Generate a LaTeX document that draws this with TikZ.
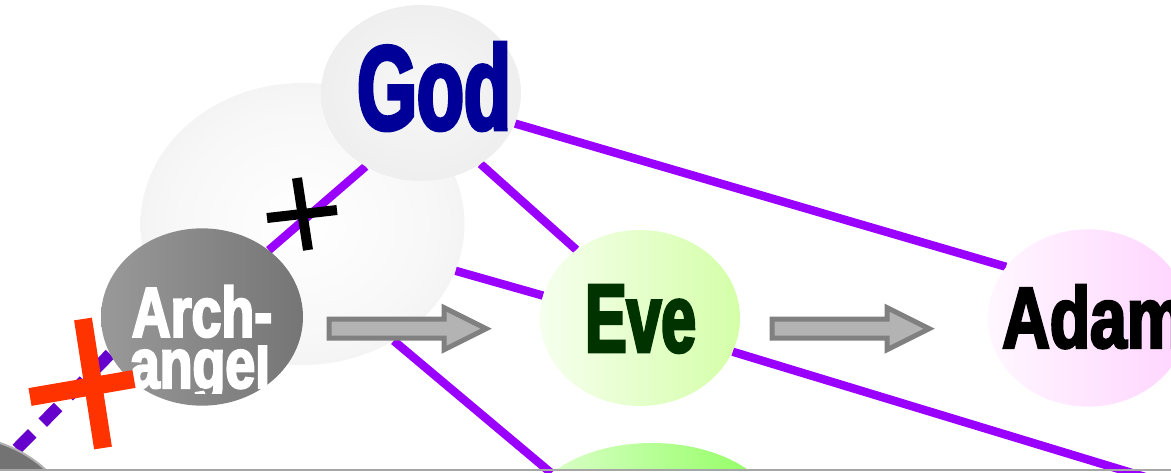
\documentclass[tikz,border=0pt]{standalone}
\usepackage{fontspec}
\newfontfamily\impact{Liberation Sans}[FakeStretch=0.64,FakeBold=3]
\newfontfamily\impactw{Liberation Sans}[FakeStretch=0.76,FakeBold=3]
\usetikzlibrary{shapes.geometric}
\definecolor{purp}{HTML}{9900FF}
\definecolor{dpurp}{HTML}{6600CC}
\definecolor{godblue}{HTML}{000099}
\definecolor{evegreen}{HTML}{003300}
\definecolor{redx}{HTML}{FF3300}
\definecolor{arrfill}{HTML}{B3B3B3}
\definecolor{arrdraw}{HTML}{808080}
\pgfdeclareradialshading{bigshade}{\pgfpoint{0bp}{0bp}}{color(0bp)=(white); color(20bp)=(white!97!black); color(50bp)=(white!89!black)}
\pgfdeclareradialshading{godshade}{\pgfpoint{0bp}{0bp}}{color(0bp)=(white!97!black); color(50bp)=(white!90!black)}
\pgfdeclarelayer{back}
\pgfdeclarelayer{mid}
\pgfsetlayers{back,mid,main}
\tikzset{
  ell/.style={ellipse, inner sep=0pt, draw=none},
  link/.style={draw=purp, line width=6.3pt},
  dlink/.style={draw=dpurp, line width=9pt, dash pattern=on 16.5pt off 11.25pt},
  lbl/.style={inner sep=0pt, anchor=base},
  blockarrowstyle/.style={fill=arrfill, draw=arrdraw, line width=3.75pt, line join=miter},
  blockarrow/.pic={\path[blockarrowstyle] (0,-9.5) -- (115,-9.5) -- (115,-21) -- (157,0) -- (115,21) -- (115,9.5) -- (0,9.5) -- cycle;}
}
\begin{document}
\begin{tikzpicture}[x=0.75pt,y=-0.75pt]
\useasboundingbox (0,0) rectangle (1171,472);
\begin{scope}
\clip (0,0) rectangle (1171,469);
% nodes
\begin{pgfonlayer}{back}
\node[ell, shading=bigshade, minimum width=243pt, minimum height=211.5pt] (big) at (302.5,224) {};
\end{pgfonlayer}
\node[ell, shading=godshade, minimum width=150pt, minimum height=132pt] (god) at (421,93) {};
\node[ell, left color=white!60!black, right color=white!46!black, minimum width=151.5pt, minimum height=133pt] (arch) at (202,317) {};
\node[ell, left color={rgb,255:red,246;green,255;blue,238}, right color={rgb,255:red,212;green,255;blue,168}, minimum width=150pt, minimum height=132pt] (eve) at (640,318) {};
\node[ell, left color={rgb,255:red,255;green,247;blue,255}, right color={rgb,255:red,255;green,212;blue,255}, minimum width=150pt, minimum height=133pt] (adam) at (1088,318) {};
\node[ell, left color={rgb,255:red,225;green,255;blue,210}, right color={rgb,255:red,140;green,255;blue,90}, minimum width=187.5pt, minimum height=112.5pt] (green) at (652,518) {};
\node[ell, fill=white!45!black, draw=white!70!black, line width=1.5pt, minimum width=187.5pt, minimum height=132pt] (bl) at (-55,522) {};
\coordinate (offr) at (1300,524);
% connectors
\begin{pgfonlayer}{mid}
\draw[link] (god.342.3) -- (adam.148.6);
\draw[link] (god.310.4) -- (eve.133.2);
\draw[link] (god.233.9) -- (arch.45.9);
\draw[link] (big.343.9) -- (eve.167.8);
\draw[link] (big.308.6) -- (green.156.7);
\draw[link] (eve.340.3) -- (offr);
\draw[dlink] (arch.202.7) -- (bl);
\end{pgfonlayer}
% texts
\node[lbl, text=godblue, font=\impact\bfseries\fontsize{90}{90}\selectfont] (godtxt) at (434,129.5) {God};
\node[lbl, text=evegreen, font=\impact\bfseries\fontsize{73}{73}\selectfont] (evetxt) at (640.5,352) {Eve};
\node[lbl, anchor=base west, text=black, font=\impactw\bfseries\fontsize{65}{65}\selectfont] (adamtxt) at (1002,347.7) {Adam};
\node[lbl, text=white, font=\impactw\bfseries\fontsize{53}{53}\selectfont] (arch1) at (202,336.7) {Arch-};
\begin{scope}
\clip (100,345) rectangle (300,393);
\node[lbl, text=white, font=\impactw\bfseries\fontsize{53}{53}\selectfont] (arch2) at (200,388) {angel};
\end{scope}
% block arrows
\pic at (329.2,328.7) {blockarrow};
\pic at (772.2,328.7) {blockarrow};
% crosses
\draw[line width=7.5pt, black] (297,178) -- (308,250);
\draw[line width=7.5pt, black] (267,218) -- (337,210);
\draw[line width=13.5pt, redx] (83,319) -- (103,448);
\draw[line width=13.5pt, redx] (30,397) -- (134,379);
\end{scope}
\draw[line width=1.5pt, color=white!65!black] (0,469.7) -- (1171,469.7);
\end{tikzpicture}
\end{document}
